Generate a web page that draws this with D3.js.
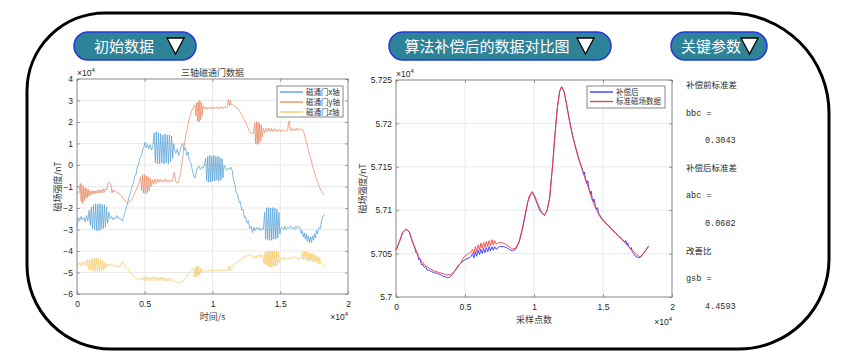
<!DOCTYPE html>
<html><head><meta charset="utf-8">
<script src="https://cdn.jsdelivr.net/npm/d3@7"></script>
<style>body{margin:0;background:#fff;} svg{display:block;}</style>
</head><body>
<svg id="c" width="851" height="358"></svg>
<script>
// ---------------- DATA ----------------
const buttonLabels = ["初始数据", "算法补偿后的数据对比图", "关键参数"];
const leftTitle = "三轴磁通门数据";
const leftSeriesNames = ["磁通门x轴", "磁通门y轴", "磁通门z轴"];
const rightSeriesNames = ["补偿后", "标准磁场数据"];
const leftXLabel = "时间/s";
const rightXLabel = "采样点数";
const yLabel = "磁场强度/nT";
const leftXTicks = [0, 0.5, 1, 1.5, 2];
const leftYTicks = [-6, -5, -4, -3, -2, -1, 0, 1, 2, 3, 4];
const rightXTicks = [0, 0.5, 1, 1.5, 2];
const rightYTicks = [5.7, 5.705, 5.71, 5.715, 5.72, 5.725];
const paramLabels = ["补偿前标准差", "bbc =", "0.3043", "补偿后标准差", "abc =", "0.0682", "改善比", "gsb =", "4.4593"];

// three-axis fluxgate data (x in 1e4 s, value in 1e4 nT)
const fluxX = [[0,-2.9],[0.01,-2.45],[0.02,-2.6],[0.03,-2.4],[0.04,-2.55],[0.05,-2.45],[0.06,-2.65],[0.07,-2.35],[0.08,-2.6],
[0.09,-2.1],[0.098,-2.8],[0.106,-1.95],[0.114,-2.95],[0.122,-1.85],[0.13,-3.0],[0.138,-1.8],[0.146,-3.05],[0.154,-1.82],[0.162,-3.05],[0.17,-1.8],[0.178,-3.0],[0.186,-1.85],[0.194,-2.95],[0.202,-1.85],[0.21,-2.9],[0.218,-1.95],[0.226,-2.7],[0.234,-2.2],
[0.245,-2.5],[0.255,-2.4],[0.265,-2.55],[0.275,-2.45],[0.285,-2.5],[0.295,-2.35],[0.305,-2.5],[0.315,-2.45],[0.325,-2.55],[0.335,-2.6],[0.345,-2.4],[0.355,-2.2],[0.365,-1.95],[0.375,-1.75],[0.385,-1.45],[0.395,-1.3],[0.405,-1.0],[0.415,-0.85],[0.425,-0.55],[0.435,-0.45],[0.445,-0.1],[0.455,0.0],[0.465,0.35],[0.475,0.4],[0.485,0.75],[0.495,0.85],[0.502,1.05],[0.51,0.8],[0.52,0.95],[0.53,0.75],[0.54,0.95],[0.55,0.7],[0.56,0.9],
[0.57,1.5],[0.578,0.1],[0.586,1.55],[0.594,0.05],[0.602,1.5],[0.61,0.05],[0.618,1.45],[0.626,0.1],[0.634,1.4],[0.642,0.05],[0.65,1.45],[0.658,0.1],[0.666,1.4],[0.674,0.05],[0.682,1.4],[0.69,0.15],[0.698,1.35],[0.706,0.3],[0.714,1.0],
[0.72,0.7],[0.73,0.55],[0.74,0.75],[0.75,0.45],[0.76,0.65],[0.77,0.9],[0.78,1.0],[0.79,0.7],[0.8,0.8],[0.81,0.45],[0.82,0.6],[0.83,0.2],[0.84,0.1],[0.85,-0.2],[0.86,-0.45],[0.87,-0.6],[0.88,-0.35],[0.89,-0.1],[0.9,-0.05],[0.91,-0.2],[0.92,-0.1],[0.93,-0.15],[0.94,0.0],
[0.95,0.3],[0.957,-0.75],[0.965,0.4],[0.972,-0.8],[0.98,0.45],[0.987,-0.8],[0.995,0.4],[1.002,-0.75],[1.01,0.45],[1.017,-0.75],[1.025,0.4],[1.032,-0.7],[1.04,0.4],[1.047,-0.75],[1.055,0.35],[1.062,-0.7],[1.07,0.3],[1.077,-0.6],[1.085,0.0],
[1.095,-0.15],[1.105,-0.25],[1.115,-0.15],[1.125,-0.2],[1.135,-0.1],[1.145,-0.25],[1.155,-0.7],[1.165,-0.9],[1.175,-1.3],[1.185,-1.35],[1.195,-1.75],[1.205,-1.7],[1.215,-2.1],[1.225,-2.05],[1.235,-2.45],[1.245,-2.4],[1.255,-2.7],[1.265,-2.6],[1.275,-2.95],[1.285,-2.85],[1.295,-3.15],[1.305,-2.9],[1.315,-3.05],[1.325,-2.9],[1.335,-3.0],[1.345,-2.9],[1.355,-3.05],[1.365,-2.95],[1.375,-3.0],
[1.385,-2.2],[1.392,-3.45],[1.4,-2.0],[1.407,-3.5],[1.415,-1.98],[1.422,-3.5],[1.43,-2.0],[1.437,-3.5],[1.445,-1.98],[1.452,-3.45],[1.46,-2.0],[1.467,-3.45],[1.475,-2.05],[1.482,-3.4],[1.49,-2.2],[1.497,-3.2],
[1.505,-2.95],[1.515,-2.9],[1.525,-3.0],[1.535,-2.85],[1.545,-3.0],[1.555,-2.9],[1.565,-2.95],[1.575,-2.85],[1.585,-2.95],[1.595,-2.9],[1.605,-3.0],[1.615,-2.85],[1.625,-2.95],[1.635,-2.85],[1.645,-2.9],[1.655,-3.2],[1.662,-3.05],[1.67,-3.35],[1.677,-3.15],[1.685,-3.45],[1.692,-3.2],[1.7,-3.55],[1.707,-3.3],[1.715,-3.6],[1.722,-3.35],[1.73,-3.6],[1.737,-3.3],[1.745,-3.5],[1.752,-3.2],[1.76,-3.4],[1.767,-3.05],[1.775,-3.2],[1.785,-2.9],[1.795,-2.95],[1.805,-2.6],[1.815,-2.4],[1.825,-2.3]];

const fluxY = [[0,-1.25],[0.01,-1.3],[0.018,-1.2],[0.024,-0.85],[0.03,-1.7],[0.036,-0.9],[0.042,-1.8],[0.048,-1.0],[0.054,-1.65],[0.06,-1.05],[0.066,-1.55],[0.072,-1.1],[0.078,-1.5],[0.084,-1.15],[0.09,-1.45],[0.097,-1.2],[0.104,-1.4],[0.111,-1.2],[0.118,-1.35],[0.125,-1.2],[0.132,-1.35],[0.139,-1.2],[0.146,-1.3],[0.153,-1.15],[0.16,-1.3],[0.167,-1.15],[0.174,-1.3],[0.181,-1.15],[0.188,-1.3],[0.195,-1.1],[0.202,-1.25],[0.21,-1.1],[0.22,-1.15],[0.228,-0.85],[0.236,-0.8],[0.244,-0.85],[0.25,-0.9],[0.258,-1.3],[0.265,-1.15],[0.272,-1.25],[0.28,-1.2],[0.29,-1.25],[0.3,-1.3],[0.31,-1.3],[0.32,-1.4],[0.33,-1.45],[0.34,-1.55],[0.35,-1.6],[0.36,-1.7],[0.37,-1.75],[0.38,-1.75],[0.39,-1.7],[0.4,-1.65],[0.41,-1.55],[0.42,-1.4],[0.43,-1.25],[0.44,-1.1],[0.45,-0.95],[0.46,-0.8],
[0.47,-0.55],[0.477,-1.2],[0.484,-0.45],[0.491,-1.3],[0.498,-0.45],[0.505,-1.35],[0.512,-0.5],[0.519,-1.3],[0.526,-0.55],[0.533,-1.2],[0.54,-0.6],[0.547,-1.0],[0.555,-0.7],
[0.565,-0.9],[0.575,-0.65],[0.585,-0.85],[0.595,-0.65],[0.605,-0.8],[0.615,-0.65],[0.625,-0.8],[0.635,-0.7],[0.645,-0.8],[0.655,-0.65],[0.665,-0.8],[0.675,-0.7],[0.685,-0.8],[0.695,-0.7],[0.705,-0.75],[0.712,-0.45],[0.718,-0.35],[0.725,-0.6],[0.73,-0.8],[0.745,-0.85],[0.755,-0.6],[0.765,-0.35],[0.775,0.1],[0.785,0.6],[0.795,1.05],[0.805,1.45],[0.815,1.75],[0.825,2.05],[0.835,2.3],[0.845,2.5],[0.855,2.65],[0.865,2.75],[0.87,2.8],
[0.877,2.3],[0.883,2.9],[0.889,2.05],[0.895,2.95],[0.901,2.0],[0.907,3.0],[0.913,2.1],[0.919,2.9],[0.925,2.3],[0.931,2.75],
[0.94,2.6],[0.95,2.7],[0.96,2.6],[0.97,2.7],[0.98,2.6],[0.99,2.7],[1.0,2.6],[1.01,2.7],[1.02,2.62],[1.03,2.7],[1.04,2.6],[1.05,2.7],[1.06,2.62],[1.07,2.72],[1.08,2.62],[1.09,2.72],[1.1,2.65],[1.11,2.7],[1.118,3.05],[1.126,2.75],[1.132,3.0],[1.14,2.8],[1.15,2.8],[1.16,2.75],[1.17,2.72],[1.18,2.65],[1.19,2.6],[1.2,2.5],[1.21,2.4],[1.22,2.3],[1.23,2.15],[1.24,2.05],[1.25,1.9],[1.26,1.75],[1.27,1.6],[1.28,1.5],[1.29,1.48],[1.3,1.45],
[1.312,1.95],[1.318,1.0],[1.324,2.0],[1.33,0.95],[1.336,2.0],[1.342,1.0],[1.348,1.95],[1.354,1.1],[1.36,1.85],[1.366,1.3],
[1.375,1.7],[1.385,1.5],[1.395,1.7],[1.405,1.55],[1.415,1.72],[1.425,1.55],[1.435,1.7],[1.445,1.55],[1.455,1.7],[1.465,1.55],[1.475,1.65],[1.485,1.55],[1.495,1.65],[1.505,1.55],[1.515,1.65],[1.525,1.6],[1.535,1.6],[1.545,1.55],[1.555,1.65],[1.562,2.0],[1.568,2.05],[1.575,1.6],[1.585,1.7],[1.595,1.6],[1.605,1.7],[1.615,1.6],[1.625,1.72],[1.635,1.6],[1.645,1.7],[1.655,1.65],[1.665,1.65],[1.675,1.5],[1.685,1.25],[1.695,1.0],[1.705,0.75],[1.715,0.5],[1.725,0.3],[1.735,0.05],[1.745,-0.2],[1.755,-0.4],[1.765,-0.6],[1.775,-0.8],[1.785,-0.95],[1.795,-1.1],[1.805,-1.25],[1.815,-1.35],[1.825,-1.38]];

const fluxZ = [[0,-4.45],[0.01,-4.65],[0.02,-4.55],[0.03,-4.7],[0.04,-4.5],[0.05,-4.65],[0.06,-4.5],[0.07,-4.7],[0.078,-4.4],
[0.086,-4.85],[0.094,-4.4],[0.102,-4.9],[0.11,-4.35],[0.118,-4.92],[0.126,-4.33],[0.134,-4.95],[0.142,-4.33],[0.15,-4.95],[0.158,-4.35],[0.166,-4.95],[0.174,-4.4],[0.182,-4.9],[0.19,-4.45],[0.198,-4.88],[0.206,-4.55],[0.214,-4.8],[0.222,-4.6],
[0.232,-4.7],[0.245,-4.6],[0.255,-4.7],[0.265,-4.65],[0.275,-4.72],[0.285,-4.65],[0.295,-4.75],[0.305,-4.7],[0.315,-4.75],[0.325,-4.6],[0.335,-4.5],[0.345,-4.6],[0.355,-4.7],[0.365,-4.8],[0.375,-4.85],[0.385,-4.95],[0.395,-5.0],[0.405,-5.1],[0.415,-5.15],[0.425,-5.2],[0.435,-5.25],[0.445,-5.3],[0.455,-5.3],[0.465,-5.35],[0.475,-5.25],[0.485,-5.35],
[0.495,-5.2],[0.505,-5.38],[0.515,-5.2],[0.525,-5.38],[0.535,-5.22],[0.545,-5.38],[0.555,-5.22],[0.565,-5.38],[0.575,-5.2],[0.585,-5.38],[0.595,-5.22],[0.605,-5.38],[0.615,-5.22],[0.625,-5.38],[0.635,-5.22],[0.645,-5.4],[0.655,-5.25],[0.665,-5.4],[0.675,-5.25],[0.685,-5.4],[0.695,-5.3],[0.705,-5.42],
[0.72,-5.4],[0.735,-5.45],[0.75,-5.5],[0.765,-5.45],[0.78,-5.4],[0.795,-5.3],[0.81,-5.2],[0.82,-5.1],[0.83,-5.0],[0.84,-4.9],[0.85,-4.85],[0.86,-4.8],
[0.868,-5.2],[0.874,-4.75],[0.88,-5.2],[0.886,-4.7],[0.892,-5.15],[0.898,-4.72],[0.904,-5.1],[0.91,-4.8],[0.916,-5.0],[0.922,-4.85],
[0.935,-4.95],[0.95,-4.9],[0.965,-4.95],[0.98,-4.9],[0.995,-4.95],[1.01,-4.88],[1.025,-4.92],[1.04,-4.88],[1.055,-4.92],[1.07,-4.88],[1.085,-4.9],[1.1,-4.88],[1.115,-4.9],[1.12,-4.7],[1.13,-4.9],[1.14,-4.7],[1.15,-4.75],[1.16,-4.65],[1.17,-4.6],[1.18,-4.55],[1.19,-4.5],[1.2,-4.45],[1.21,-4.4],[1.22,-4.35],[1.23,-4.3],[1.24,-4.25],[1.25,-4.25],[1.26,-4.2],[1.27,-4.2],[1.28,-4.15],[1.29,-4.2],[1.3,-4.3],[1.31,-4.25],[1.32,-4.35],[1.33,-4.2],[1.34,-4.3],[1.35,-4.15],[1.36,-4.3],[1.37,-4.2],
[1.382,-4.6],[1.389,-4.05],[1.396,-4.65],[1.403,-4.0],[1.41,-4.72],[1.417,-4.0],[1.424,-4.75],[1.431,-4.0],[1.438,-4.75],[1.445,-4.0],[1.452,-4.72],[1.459,-4.0],[1.466,-4.7],[1.473,-4.0],[1.48,-4.65],[1.487,-4.05],[1.494,-4.55],
[1.505,-4.35],[1.515,-4.3],[1.525,-4.4],[1.535,-4.3],[1.545,-4.4],[1.555,-4.35],[1.565,-4.3],[1.575,-4.4],[1.585,-4.3],[1.595,-4.35],[1.605,-4.25],[1.615,-4.35],[1.625,-4.3],[1.635,-4.4],[1.645,-4.3],[1.655,-4.35],
[1.665,-4.05],[1.672,-4.4],[1.679,-4.0],[1.686,-4.4],[1.693,-4.05],[1.7,-4.45],[1.707,-4.05],[1.714,-4.45],[1.721,-4.1],[1.728,-4.45],[1.735,-4.1],[1.742,-4.5],[1.749,-4.15],[1.756,-4.5],[1.763,-4.2],[1.77,-4.55],[1.777,-4.25],[1.784,-4.6],[1.791,-4.3],[1.798,-4.55],[1.81,-4.6],[1.82,-4.7],[1.83,-4.75]];

// compensated vs standard total field (x in 1e4 samples, value in 1e4 nT)
const compensated = [[0,5.7054],[0.024,5.7063],[0.048,5.7074],[0.072,5.7078],[0.096,5.7075],[0.12,5.7063],[0.135,5.7057],[0.145,5.7051],[0.155,5.7050],[0.165,5.7043],[0.175,5.7044],[0.185,5.7037],[0.195,5.7038],[0.205,5.7034],[0.215,5.7035],[0.225,5.7031],[0.24,5.7031],[0.26,5.7029],[0.28,5.7028],[0.3,5.7027],[0.32,5.7026],[0.34,5.7024],[0.36,5.7023],[0.375,5.7022],[0.39,5.7023],[0.41,5.7026],[0.43,5.7031],[0.45,5.7036],[0.47,5.7039],[0.49,5.7042],[0.51,5.7044],[0.53,5.7045],[0.545,5.7047],
[0.555,5.7050],[0.565,5.7045],[0.575,5.7052],[0.585,5.7047],[0.595,5.7054],[0.605,5.7049],[0.615,5.7055],[0.625,5.7050],[0.635,5.7056],[0.645,5.7051],[0.655,5.7057],[0.665,5.7052],[0.675,5.7058],[0.685,5.7053],[0.695,5.7058],[0.705,5.7054],[0.715,5.7058],[0.725,5.7055],
[0.75,5.7058],[0.78,5.7058],[0.8,5.7057],[0.82,5.7055],[0.843,5.7053],[0.867,5.7055],[0.892,5.7063],[0.916,5.7078],[0.94,5.7097],[0.955,5.7110],[0.964,5.7113],[0.975,5.7118],[0.988,5.7120],[1.0,5.7117],[1.012,5.7112],[1.024,5.7107],[1.036,5.7102],[1.048,5.7098],[1.06,5.7096],[1.077,5.7094],[1.096,5.7100],[1.113,5.7114],[1.133,5.7148],[1.152,5.7187],[1.169,5.7218],[1.186,5.7237],[1.2,5.7242],[1.217,5.7237],[1.234,5.7224],[1.253,5.7207],[1.277,5.7188],[1.301,5.7173],[1.325,5.7159],[1.349,5.7148],[1.36,5.7141],[1.365,5.7144],[1.373,5.7136],[1.385,5.7131],[1.39,5.7134],[1.398,5.7125],[1.41,5.7119],[1.415,5.7122],[1.422,5.7113],[1.43,5.7110],[1.435,5.7113],[1.446,5.7104],[1.455,5.7101],[1.46,5.7103],[1.47,5.7096],[1.494,5.7090],[1.518,5.7086],[1.542,5.7082],[1.566,5.7078],[1.59,5.7074],[1.615,5.7070],[1.639,5.7067],[1.66,5.7063],[1.665,5.7065],[1.675,5.7060],[1.68,5.7062],[1.687,5.7058],[1.7,5.7055],[1.705,5.7057],[1.712,5.7052],[1.723,5.7050],[1.735,5.7047],[1.747,5.7046],[1.76,5.7045],[1.771,5.7046],[1.785,5.7049],[1.795,5.7051],[1.81,5.7054],[1.831,5.7059]];

const standard = [[0,5.70543],[0.024,5.70639],[0.048,5.70746],[0.072,5.70785],[0.096,5.70754],[0.12,5.70639],[0.145,5.70543],[0.169,5.70446],[0.193,5.70396],[0.217,5.70362],[0.241,5.70331],[0.277,5.70300],[0.313,5.70281],[0.349,5.70265],[0.373,5.70254],[0.398,5.70262],[0.422,5.70292],[0.446,5.70338],[0.47,5.70396],[0.494,5.70465],[0.518,5.70492],[0.542,5.70515],
[0.555,5.7055],[0.565,5.7050],[0.575,5.7058],[0.585,5.7052],[0.595,5.7060],[0.605,5.7054],[0.615,5.7062],[0.625,5.7056],[0.635,5.7063],[0.645,5.7057],[0.655,5.7064],[0.665,5.7058],[0.675,5.7065],[0.685,5.7059],[0.695,5.7066],[0.705,5.7060],[0.715,5.7065],[0.725,5.7061],
[0.747,5.70628],[0.783,5.7062],[0.819,5.70581],[0.843,5.70554],[0.867,5.70562],[0.892,5.70639],[0.916,5.70793],[0.94,5.70985],[0.964,5.71158],[0.988,5.71216],[1.012,5.71139],[1.036,5.71042],[1.06,5.70966],[1.077,5.70947],[1.096,5.71004],[1.113,5.71139],[1.133,5.71486],[1.152,5.71871],[1.169,5.72179],[1.186,5.72371],[1.2,5.72425],[1.217,5.72371],[1.234,5.72237],[1.253,5.72063],[1.277,5.71871],[1.301,5.71717],[1.325,5.71582],[1.349,5.71467],[1.373,5.71351],[1.398,5.71236],[1.422,5.7112],[1.446,5.71024],[1.47,5.70947],[1.494,5.70889],[1.542,5.70812],[1.59,5.70735],[1.639,5.70658],[1.687,5.70581],[1.723,5.70524],[1.747,5.70485],[1.771,5.70458],[1.795,5.70504],[1.831,5.70581]];

// ---------------- DRAWING ----------------
const svg = d3.select("#c");
const CJK = "'Noto Sans CJK SC', 'Noto Sans', sans-serif";
const LAT = "'Liberation Sans', Arial, sans-serif";
const txtCol = "#262626";

// outer rounded frame (different corner radii)
(function(){
  const L = 27, T = 13, R = 829, B = 349;
  const rTL = 78, rTR = 100, rBR = 90, rBL = 84;
  const p = d3.path();
  p.moveTo(L + rTL, T);
  p.lineTo(R - rTR, T);
  p.arcTo(R, T, R, T + rTR, rTR);
  p.lineTo(R, B - rBR);
  p.arcTo(R, B, R - rBR, B, rBR);
  p.lineTo(L + rBL, B);
  p.arcTo(L, B, L, B - rBL, rBL);
  p.lineTo(L, T + rTL);
  p.arcTo(L, T, L + rTL, T, rTL);
  p.closePath();
  svg.append("path").attr("d", p.toString()).attr("fill", "none").attr("stroke", "#000").attr("stroke-width", 3);
})();

// buttons
const btnGeo = [
  {x: 74, w: 122, tx: 124, tri: 167},
  {x: 389, w: 222, tx: 487, tri: 577},
  {x: 671, w: 96, tx: 711, tri: 741}
];
buttonLabels.forEach((lab, i) => {
  const g = btnGeo[i];
  svg.append("rect").attr("x", g.x).attr("y", 32).attr("width", g.w).attr("height", 28)
    .attr("rx", 14).attr("ry", 14).attr("fill", "#2f8398").attr("stroke", "#2438e0").attr("stroke-width", 1.5);
  svg.append("text").attr("x", g.tx).attr("y", 51.5).attr("text-anchor", "middle")
    .attr("font-family", CJK).attr("font-size", 15).attr("fill", "#fff").text(lab);
  svg.append("path").attr("d", `M${g.tri},38 L${g.tri + 17},38 L${g.tri + 8.5},54 Z`)
    .attr("fill", "#fff").attr("stroke", "#000").attr("stroke-width", 1.3).attr("stroke-linejoin", "miter");
});

function sci(g, x, y, anchor) {
  const t = g.append("text").attr("x", x).attr("y", y).attr("text-anchor", anchor)
    .attr("font-family", LAT).attr("font-size", 8.5).attr("fill", txtCol);
  t.append("tspan").text("×10");
  t.append("tspan").attr("dy", -4).attr("font-size", 6).text("4");
}

function drawAxes(cfg) {
  const {x0, x1, yT, yB, xDom, yDom, xTicks, yTicks, yFmt, xLabel, xLabelY, yLabelX, sciBottomY} = cfg;
  const xs = d3.scaleLinear().domain(xDom).range([x0, x1]);
  const ys = d3.scaleLinear().domain(yDom).range([yB, yT]);
  const g = svg.append("g");
  g.append("rect").attr("x", x0).attr("y", yT).attr("width", x1 - x0).attr("height", yB - yT).attr("fill", "#fff");
  // grid
  g.selectAll(".gx").data(xTicks).enter().append("line")
    .attr("x1", d => xs(d)).attr("x2", d => xs(d)).attr("y1", yT).attr("y2", yB)
    .attr("stroke", "#e3e3e3").attr("stroke-width", 0.8);
  g.selectAll(".gy").data(yTicks).enter().append("line")
    .attr("y1", d => ys(d)).attr("y2", d => ys(d)).attr("x1", x0).attr("x2", x1)
    .attr("stroke", "#e3e3e3").attr("stroke-width", 0.8);
  const tl = 2.8;
  const ax = (gen, tx, ty) => g.append("g").attr("transform", `translate(${tx},${ty})`).call(gen)
    .call(s => { s.select(".domain").remove(); s.selectAll("line").attr("stroke", "#555").attr("stroke-width", 0.6);
      s.selectAll("text").attr("font-family", LAT).attr("font-size", 8.5).attr("fill", txtCol); });
  ax(d3.axisBottom(xs).tickValues(xTicks).tickSize(-tl).tickPadding(7).tickFormat(d3.format("~g")), 0, yB);
  ax(d3.axisTop(xs).tickValues(xTicks).tickSize(-tl).tickFormat(""), 0, yT);
  ax(d3.axisLeft(ys).tickValues(yTicks).tickSize(-tl).tickPadding(4).tickFormat(yFmt), x0, 0);
  ax(d3.axisRight(ys).tickValues(yTicks).tickSize(-tl).tickFormat(""), x1, 0);
  g.append("rect").attr("x", x0).attr("y", yT).attr("width", x1 - x0).attr("height", yB - yT)
    .attr("fill", "none").attr("stroke", "#7a7a7a").attr("stroke-width", 0.8);
  g.append("text").attr("x", (x0 + x1) / 2).attr("y", xLabelY).attr("text-anchor", "middle")
    .attr("font-family", CJK).attr("font-size", 9).attr("fill", "#404040").text(xLabel);
  g.append("text").attr("transform", `translate(${yLabelX},${(yT + yB) / 2}) rotate(-90)`).attr("text-anchor", "middle")
    .attr("font-family", CJK).attr("font-size", 9).attr("fill", "#404040").text(yLabel);
  sci(g, x0, yT - 3, "start");
  sci(g, x1, sciBottomY, "end");
  return {xs, ys, g};
}

function drawLegend(g, x, y, w, h, names, colors, rowH) {
  g.append("rect").attr("x", x).attr("y", y).attr("width", w).attr("height", h)
    .attr("fill", "#fff").attr("stroke", "#6a6a6a").attr("stroke-width", 0.8);
  names.forEach((n, i) => {
    const cy = y + 6 + i * rowH;
    g.append("line").attr("x1", x + 3).attr("x2", x + 26).attr("y1", cy).attr("y2", cy)
      .attr("stroke", colors[i]).attr("stroke-width", 1.3);
    g.append("text").attr("x", x + 29).attr("y", cy + 2.7).attr("font-family", CJK).attr("font-size", 7.5)
      .attr("fill", "#333").text(n);
  });
}

// ----- left chart -----
const leftColors = ["#4b9bd6", "#e8825a", "#f3c65a"];
const L = drawAxes({x0: 77, x1: 348, yT: 79, yB: 294, xDom: [0, 2], yDom: [-6, 4],
  xTicks: leftXTicks, yTicks: leftYTicks, yFmt: d3.format("d"), xLabel: leftXLabel, xLabelY: 320,
  yLabelX: 61, sciBottomY: 320});
L.g.append("text").attr("x", 212.5).attr("y", 76).attr("text-anchor", "middle")
  .attr("font-family", CJK).attr("font-size", 9).attr("fill", "#404040").text(leftTitle);
const lineL = d3.line().x(d => L.xs(d[0])).y(d => L.ys(d[1]));
[fluxX, fluxY, fluxZ].forEach((s, i) => {
  L.g.append("path").attr("d", lineL(s)).attr("fill", "none").attr("stroke", leftColors[i])
    .attr("stroke-width", 0.7).attr("stroke-linejoin", "round");
});
drawLegend(L.g, 277, 86, 66, 31, leftSeriesNames, leftColors, 10);

// ----- right chart -----
const rightColors = ["#2a2aff", "#ff3030"];
const R = drawAxes({x0: 396, x1: 672, yT: 80, yB: 297, xDom: [0, 2], yDom: [5.7, 5.725],
  xTicks: rightXTicks, yTicks: rightYTicks, yFmt: d3.format("~g"), xLabel: rightXLabel, xLabelY: 323,
  yLabelX: 366, sciBottomY: 325});
const lineR = d3.line().x(d => R.xs(d[0])).y(d => R.ys(d[1]));
[compensated, standard].forEach((s, i) => {
  R.g.append("path").attr("d", lineR(s)).attr("fill", "none").attr("stroke", rightColors[i])
    .attr("stroke-width", 0.85).attr("stroke-linejoin", "round");
});
drawLegend(R.g, 587, 86, 78, 22, rightSeriesNames, rightColors, 9.5);

// ----- parameter panel -----
paramLabels.forEach((t, i) => {
  const isVal = i % 3 === 2;
  const isCjk = i % 3 === 0;
  svg.append("text").attr("x", isVal ? 705 : 686).attr("y", 88 + i * 27.6)
    .attr("font-family", isCjk ? CJK : "'Liberation Mono', 'DejaVu Sans Mono', monospace")
    .attr("font-size", isCjk ? 8.5 : 8.5).attr("fill", "#2a2a2a").text(t);
});
</script>
</body></html>
